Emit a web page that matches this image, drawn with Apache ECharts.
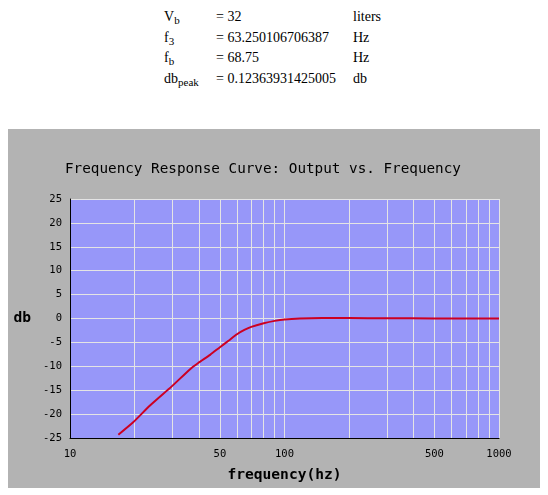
<!DOCTYPE html>
<html>
<head>
<meta charset="utf-8">
<script src="https://cdn.jsdelivr.net/npm/echarts@6/dist/echarts.min.js"></script>
<style>
  body { margin: 0; background: #fff; }
  .hd { position: absolute; font-family: 'Liberation Serif', serif; font-size: 14px; color: #000; line-height: 20px; white-space: nowrap; }
  .hd sub { font-size: 11px; vertical-align: -3px; line-height: 0; }
  #chart { position: absolute; left: 8px; top: 129px; width: 532px; height: 359px; background: #b3b3b3; }
</style>
</head>
<body>
<div class="hd" style="left:164px;top:7px">V<sub>b</sub></div>
<div class="hd" style="left:216px;top:7px">= 32</div>
<div class="hd" style="left:353px;top:7px">liters</div>
<div class="hd" style="left:164px;top:28px">f<sub>3</sub></div>
<div class="hd" style="left:216px;top:28px">= 63.250106706387</div>
<div class="hd" style="left:353px;top:28px">Hz</div>
<div class="hd" style="left:164px;top:48px">f<sub>b</sub></div>
<div class="hd" style="left:216px;top:48px">= 68.75</div>
<div class="hd" style="left:353px;top:48px">Hz</div>
<div class="hd" style="left:164px;top:69px">db<sub>peak</sub></div>
<div class="hd" style="left:216px;top:69px">= 0.12363931425005</div>
<div class="hd" style="left:353px;top:69px">db</div>
<div id="chart"></div>
<script>
// response curve
var freq = [16.8, 19.7, 23.6, 29.8, 36.3, 39.6, 45, 50, 55, 60, 65, 70, 80, 90, 100, 118, 150, 200, 300, 500, 700, 1000];
var dbOut = [-24.3, -21.7, -18.2, -14.2, -10.6, -9.3, -7.6, -6.0, -4.6, -3.3, -2.4, -1.75, -1.0, -0.5, -0.2, 0, 0.1, 0.1, 0.05, 0.02, 0.01, 0];

var gridFreqs = [20, 30, 40, 50, 60, 70, 80, 90, 100, 200, 300, 400, 500, 600, 700, 800, 900, 1000];
var freqLabels = [10, 50, 100, 500, 1000];

var mono = 'DejaVu Sans Mono';

var chart = echarts.init(document.getElementById('chart'));
chart.setOption({
    animation: false,
    title: {
        text: 'Frequency Response Curve: Output vs. Frequency',
        left: 57,
        top: 33,
        padding: 0,
        textStyle: { fontFamily: mono, fontSize: 14.3, fontWeight: 'normal', color: '#000' }
    },
    grid: {
        left: 62, top: 70, width: 429, height: 240,
        show: true, backgroundColor: '#9797f9', borderWidth: 0
    },
    xAxis: {
        type: 'log',
        logBase: 10,
        min: 10,
        max: 1000,
        name: 'frequency(hz)',
        nameLocation: 'middle',
        nameGap: 30,
        nameTextStyle: { fontFamily: mono, fontSize: 14.6, fontWeight: 'bold', color: '#000' },
        axisLine: { onZero: false, lineStyle: { color: '#000', width: 1 } },
        axisTick: { show: false, customValues: gridFreqs },
        axisLabel: {
            customValues: freqLabels, fontFamily: mono, fontSize: 10.5, color: '#000', margin: 11,
            formatter: function (v) { return String(v); }
        },
        splitLine: { show: true, lineStyle: { color: '#e4e4e4', width: 1 } }
    },
    yAxis: {
        type: 'value',
        min: -25,
        max: 25,
        interval: 5,
        name: 'db',
        nameLocation: 'middle',
        nameRotate: 0,
        nameGap: 39,
        nameTextStyle: { fontFamily: mono, fontSize: 14.6, fontWeight: 'bold', color: '#000' },
        axisLine: { show: true, onZero: false, lineStyle: { color: '#000', width: 1 } },
        axisTick: { show: false },
        axisLabel: { fontFamily: mono, fontSize: 10.5, color: '#000', margin: 8 },
        splitLine: { show: true, lineStyle: { color: '#e4e4e4', width: 1 } }
    },
    series: [{
        type: 'line',
        data: freq.map(function (f, i) { return [f, dbOut[i]]; }),
        showSymbol: false,
        smooth: 0.2,
        lineStyle: { color: '#cc0022', width: 2 }
    }]
});
</script>
</body>
</html>
